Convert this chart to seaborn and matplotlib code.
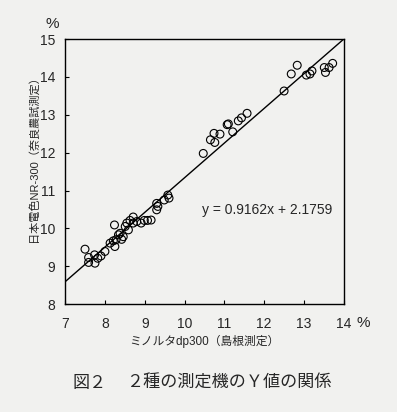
import numpy as np
import pandas as pd
import seaborn as sns
import matplotlib.pyplot as plt

# ミノルタdp300 (島根) vs 日本電色NR-300 (奈良) のY値
minolta = [7.50, 7.59, 7.59, 7.74, 7.75, 7.82, 7.90, 8.00, 8.13, 8.21,
           8.24, 8.25, 8.28, 8.34, 8.38, 8.42, 8.46, 8.51, 8.55, 8.59,
           8.63, 8.71, 8.71, 8.80, 8.91, 8.99, 9.07, 9.16, 9.30, 9.30,
           9.33, 9.49, 9.58, 9.61,
           10.47, 10.65, 10.74, 10.76, 10.89, 11.07, 11.10, 11.21, 11.35, 11.43,
           11.57, 12.50, 12.68, 12.83, 13.06, 13.15, 13.20, 13.51, 13.54, 13.63,
           13.72]
nr300 = [9.45, 9.23, 9.10, 9.30, 9.08, 9.21, 9.27, 9.39, 9.61, 9.67,
         10.09, 9.52, 9.70, 9.83, 9.87, 9.71, 9.78, 10.05, 10.14, 9.96,
         10.21, 10.30, 10.14, 10.18, 10.14, 10.21, 10.21, 10.22, 10.66, 10.49,
         10.58, 10.75, 10.88, 10.80,
         11.98, 12.34, 12.51, 12.27, 12.49, 12.74, 12.76, 12.55, 12.84, 12.92,
         13.04, 13.63, 14.08, 14.31, 14.05, 14.08, 14.16, 14.25, 14.12, 14.25,
         14.36]

slope = 0.9162
intercept = 2.1759
line_x = [7, 14]

x_ticks = [7, 8, 9, 10, 11, 12, 13, 14]
y_ticks = [8, 9, 10, 11, 12, 13, 14, 15]

df = pd.DataFrame({'x': minolta, 'y': nr300})
df_line = pd.DataFrame({'x': line_x})
df_line['y'] = slope * df_line['x'] + intercept

sns.set_style('ticks')
plt.rcParams['font.family'] = ['Liberation Sans', 'Noto Sans CJK JP', 'DejaVu Sans']
bg = '#f1f1ef'

fig = plt.figure(figsize=(3.97, 4.12), dpi=100, facecolor=bg)
ax = fig.add_axes([0.164, 0.262, 0.702, 0.643], facecolor=bg)

sns.lineplot(data=df_line, x='x', y='y', ax=ax, color='black', linewidth=1.0)
sns.scatterplot(data=df, x='x', y='y', ax=ax, marker='o', s=32,
                facecolor='none', edgecolor='black', linewidth=0.8)

ax.set_xlim(7, 14)
ax.set_ylim(8, 15)
ax.set_xticks(x_ticks)
ax.set_yticks(y_ticks)
ax.tick_params(direction='in', length=3, width=0.8, labelsize=10, color='black')
ax.tick_params(axis='x', pad=9)
ax.tick_params(axis='y', pad=7)
for s in ax.spines.values():
    s.set_linewidth(1.0)
    s.set_color('black')

ax.set_xlabel('ミノルタdp300（島根測定）', fontsize=8.5,
              family=['Liberation Sans', 'Noto Sans CJK JP'], labelpad=3)
ax.set_ylabel('日本電色NR-300（奈良農試測定）', fontsize=8,
              family=['Liberation Sans', 'Noto Sans CJK JP'])
# ラベルの右端をtick数字の左側に置く
ax.yaxis.set_label_coords(-26 / 279, 0.56)

ax.text(10.45, 10.49, 'y = 0.9162x + 2.1759', fontsize=10, va='center')
fig.text(52 / 397, 1 - 24 / 412, '%', fontsize=11, ha='center', va='center')
fig.text(363 / 397, 1 - 323 / 412, '%', fontsize=11, ha='center', va='center')

cap_font = ['Noto Sans CJK JP']
fig.text(72 / 397, 1 - 383 / 412, '図２', fontsize=12.3,
         ha='left', va='center', family=cap_font)
fig.text(126 / 397, 1 - 383 / 412, '２種の測定機のＹ値の関係', fontsize=12.3,
         ha='left', va='center', family=cap_font)

fig.savefig('out.png', dpi=100, facecolor=bg)
